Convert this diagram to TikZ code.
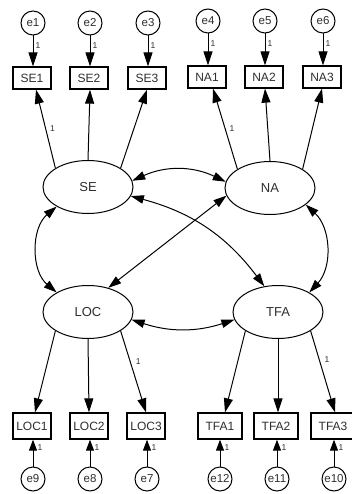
\documentclass[tikz,border=0pt]{standalone}
\usepackage{fontspec}
\setmainfont{Liberation Sans}
\usetikzlibrary{arrows.meta,shapes.geometric,calc}
\definecolor{txt}{HTML}{2E2E2E}
\begin{document}
\begin{tikzpicture}[x=1pt,y=1pt,
  every node/.style={font=\fontsize{12}{13}\selectfont, text=txt},
  lat/.style={draw, ellipse, line width=1pt, minimum width=90pt, minimum height=53pt, inner sep=0pt, font=\fontsize{13}{14}\selectfont},
  obs/.style={draw, rectangle, line width=1.3pt, minimum width=38pt, minimum height=22pt, inner sep=0pt},
  lobs/.style={obs, minimum height=26pt},
  wobs/.style={lobs, minimum width=44pt},
  err/.style={draw, circle, line width=1pt, minimum size=24pt, inner sep=0pt, font=\fontsize{11.5}{12}\selectfont},
  reg/.style={-{Triangle[length=14pt,width=9pt]}, line width=1pt},
  sreg/.style={-{Triangle[length=11pt,width=8pt]}, line width=1pt},
  cov/.style={{Triangle[length=13pt,width=8.5pt]}-{Triangle[length=13pt,width=8.5pt]}, line width=1pt},
  wt/.style={font=\fontsize{8.5}{9}\selectfont, inner sep=1pt}
]
\useasboundingbox (0,0) rectangle (351,-494);

% latent factors
\node[lat] (SE)  at (88,-187)  {SE};
\node[lat] (NA)  at (270,-188) {NA};
\node[lat] (LOC) at (88,-312)  {LOC};
\node[lat] (TFA) at (278,-312) {TFA};

% indicators
\node[obs] (SE1) at (32,-78)  {SE1};
\node[obs] (SE2) at (89,-78)  {SE2};
\node[obs] (SE3) at (147,-78) {SE3};
\node[obs] (NA1) at (207,-77) {NA1};
\node[obs] (NA2) at (264,-77) {NA2};
\node[obs] (NA3) at (322,-77) {NA3};
\node[lobs] (LOC1) at (32,-426)  {LOC1};
\node[lobs] (LOC2) at (89,-426)  {LOC2};
\node[lobs] (LOC3) at (146,-426) {LOC3};
\node[wobs] (TFA1) at (220,-426) {TFA1};
\node[wobs] (TFA2) at (276,-426) {TFA2};
\node[wobs] (TFA3) at (333,-426) {TFA3};

% error terms
\node[err] (e1) at (33,-23)  {e1};
\node[err] (e2) at (90,-23)  {e2};
\node[err] (e3) at (148,-23) {e3};
\node[err] (e4) at (208,-21) {e4};
\node[err] (e5) at (265,-21) {e5};
\node[err] (e6) at (323,-21) {e6};
\node[err] (e9)  at (33,-479)  {e9};
\node[err] (e8)  at (90,-479)  {e8};
\node[err] (e7)  at (147,-479) {e7};
\node[err] (e12) at (220,-479) {e12};
\node[err] (e11) at (277,-479) {e11};
\node[err] (e10) at (334,-479) {e10};

% error paths
\foreach \e/\v in {e1/SE1,e2/SE2,e3/SE3,e4/NA1,e5/NA2,e6/NA3}
  \draw[reg] (\e) -- (\e |- \v.north) node[wt, pos=0.32, right=1pt] {1};
\foreach \e/\v in {e9/LOC1,e8/LOC2,e7/LOC3,e12/TFA1,e11/TFA2,e10/TFA3}
  \draw[sreg] (\e) -- (\e |- \v.south) node[wt, pos=0.7, right=3pt] {1};

% factor loadings
\draw[reg] (SE.150) -- ($(SE1.south)+(4,0)$) node[wt, midway, right=3pt] {1};
\draw[reg] (SE.north) -- ($(SE2.south)+(1,0)$);
\draw[reg] (SE.30) -- (SE3.south);
\draw[reg] (NA.150) -- ($(NA1.south)+(6,0)$) node[wt, midway, right=3pt] {1};
\draw[reg] (NA.north) -- ($(NA2.south)+(1,0)$);
\draw[reg] (NA.30) -- (NA3.south);
\draw[reg] (LOC.210) -- ($(LOC1.north)+(3,0)$);
\draw[reg] (LOC.south) -- (LOC2.north);
\draw[reg] (LOC.330) -- (LOC3.north) node[wt, pos=0.38, right=4pt] {1};
\draw[reg] (TFA.210) -- ($(TFA1.north)+(5,0)$);
\draw[reg] (TFA.south) -- ($(TFA2.north)+(2,0)$);
\draw[reg] (TFA.330) -- ($(TFA3.north)+(2,0)$) node[wt, pos=0.35, right=4pt] {1};

% covariances
\draw[cov] (SE.8) to[bend left=25] (NA.172);
\draw[cov] (SE.-12) to[bend left=19] (TFA.118);
\draw[cov] (NA.190) -- (LOC.50);
\draw[cov] (SE.212) to[bend right=50] (LOC.148);
\draw[cov] (NA.-25) to[bend left=45] (TFA.32);
\draw[cov] (LOC.-10) to[bend right=18] (TFA.190);
\end{tikzpicture}
\end{document}
